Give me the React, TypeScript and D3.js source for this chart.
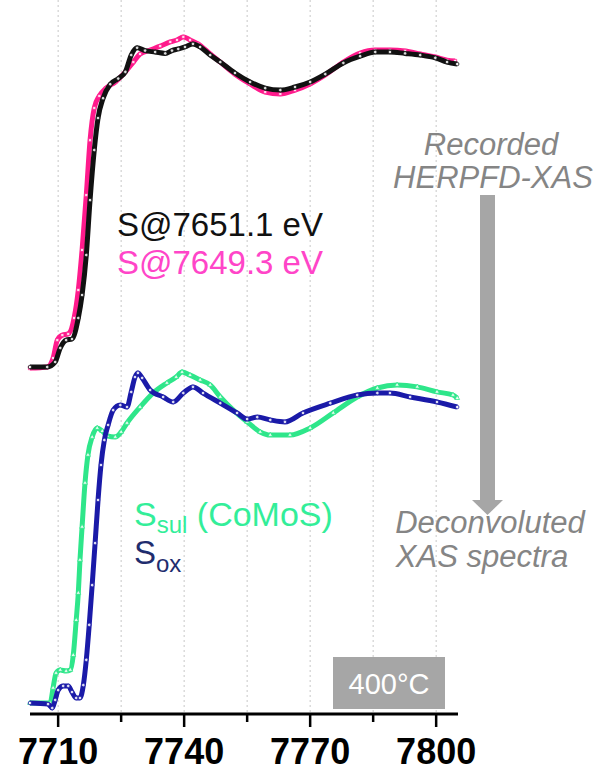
import React from "react";
import * as d3 from "d3";

// ---------- data (energy in eV, normalized absorbance) ----------
const blackE = [7703.3,7707.4,7709.3,7710.5,7711.9,7713.3,7714.8,7715.7,7716.7,7717.6,7718.6,7719.5,7720.7,7722.4,7724.3,7726,7727.4,7728.8,7730.7,7733.1,7735.5,7737.1,7738.6,7740.2,7742.1,7743.8,7746.2,7748.6,7752.1,7755.7,7759.3,7762.9,7766.4,7770,7773.6,7777.9,7781.9,7785.5,7789,7792.6,7796.2,7799.8,7802.6,7805];
const blackV = [0,0,0.018,0.068,0.096,0.1,0.175,0.257,0.4,0.596,0.775,0.889,0.96,1.01,1.03,1.054,1.114,1.14,1.13,1.125,1.12,1.13,1.136,1.143,1.154,1.143,1.114,1.089,1.05,1.018,0.996,0.989,1.0,1.018,1.046,1.086,1.11,1.125,1.125,1.12,1.114,1.104,1.089,1.082];

const pinkE = [7703.3,7707.4,7708.8,7709.8,7711,7712.4,7713.8,7714.8,7715.7,7716.7,7717.6,7718.6,7719.8,7721.4,7723.6,7726,7727.9,7729.5,7731.9,7734.3,7736.7,7738.3,7739.8,7741.4,7743.3,7746.2,7748.6,7752.1,7755.7,7759.3,7762.9,7766.4,7770,7773.6,7777.9,7781.9,7785.5,7789,7792.6,7796.2,7799.8,7802.6,7804.5];
const pinkV = [-0.004,0,0.032,0.096,0.114,0.118,0.175,0.275,0.418,0.614,0.81,0.925,0.968,0.996,1.018,1.054,1.089,1.118,1.132,1.146,1.161,1.168,1.179,1.168,1.154,1.118,1.089,1.046,1.011,0.982,0.975,0.989,1.011,1.043,1.089,1.121,1.132,1.132,1.129,1.118,1.107,1.096,1.093];

const sulE = [7703.3,7708.1,7708.8,7709.5,7710.5,7711.9,7712.9,7713.6,7714.3,7714.8,7715.2,7715.7,7716.4,7717.1,7718.1,7719.3,7720.5,7721.7,7723.6,7725,7726.4,7729.5,7732.6,7735.9,7738.1,7739.5,7741.4,7743.8,7746.2,7748.6,7751.7,7755,7758.1,7760.5,7765.2,7770,7775.5,7781.2,7786,7790.7,7795.5,7800.2,7804,7805];
const sulV = [0,0,0.054,0.107,0.118,0.114,0.118,0.171,0.296,0.393,0.511,0.629,0.786,0.886,0.95,0.982,0.971,0.954,0.95,0.968,1.0,1.057,1.107,1.143,1.164,1.182,1.171,1.154,1.136,1.093,1.046,1.004,0.968,0.957,0.957,0.982,1.036,1.093,1.125,1.136,1.129,1.111,1.1,1.089];

const oxE = [7703.3,7707.6,7708.6,7709.3,7710,7711.2,7712.4,7713.3,7714.3,7715.2,7716,7716.7,7717.4,7718.1,7718.8,7719.5,7720.2,7721,7721.9,7723.1,7724.8,7726.4,7727.4,7728.3,7729,7730,7731.9,7735,7737.4,7739.8,7742.1,7744.5,7748.6,7752.6,7755,7757.4,7760.5,7764,7768.3,7774.8,7781.2,7786,7789,7793.8,7800.2,7805];
const oxV = [0,-0.004,-0.018,0.011,0.046,0.061,0.061,0.039,0.018,0.018,0.064,0.154,0.279,0.421,0.571,0.725,0.85,0.939,0.993,1.046,1.064,1.057,1.111,1.164,1.179,1.161,1.118,1.093,1.075,1.107,1.129,1.107,1.071,1.036,1.014,1.021,1.011,1.004,1.036,1.071,1.1,1.107,1.107,1.093,1.075,1.057];

const TOP_OFFSET = 1.2;
const majorTicks = [7710, 7740, 7770, 7800];
const minorTicks = [7725, 7755, 7785];
const gridTicks = [7710, 7725, 7740, 7755, 7770, 7785, 7800];

const COLORS = {
  black: "#111111",
  pink: "#ff1a8c",
  pinkText: "#ff45c8",
  sul: "#2ee68a",
  sulText: "#33ee99",
  ox: "#1a1aa8",
  oxText: "#1f2d6e",
  gray: "#858585",
  box: "#a6a6a6",
};

const W = 595, H = 772;
const x = d3.scaleLinear().domain([7703.3, 7805.2]).range([30, 458]);
const y = d3.scaleLinear().domain([0, 1]).range([703, 423]);
const AXIS_Y = 714;

type Series = { E: number[]; V: number[]; offset: number; color: string; symbol: d3.SymbolType };

const series: Series[] = [
  { E: pinkE, V: pinkV, offset: TOP_OFFSET, color: COLORS.pink, symbol: d3.symbolSquare },
  { E: blackE, V: blackV, offset: TOP_OFFSET, color: COLORS.black, symbol: d3.symbolCircle },
  { E: sulE, V: sulV, offset: 0, color: COLORS.sul, symbol: d3.symbolTriangle },
  { E: oxE, V: oxV, offset: 0, color: COLORS.ox, symbol: d3.symbolCircle },
];

function SeriesPath({ s }: { s: Series }) {
  const pts: [number, number][] = s.E.map((e, i) => [x(e), y(s.V[i] + s.offset)]);
  const line = d3.line().curve(d3.curveMonotoneX)(pts) || "";
  const sym = d3.symbol().type(s.symbol).size(10)() || "";
  return (
    <g>
      <path d={line} fill="none" stroke={s.color} strokeWidth={5} strokeLinejoin="round" />
      {pts.map((p, i) => (
        <path key={i} d={sym} transform={`translate(${p[0]},${p[1]})`} fill="#ffffff" fillOpacity={0.85} stroke={s.color} strokeWidth={0.8} />
      ))}
    </g>
  );
}

export default function App() {
  const font = "Liberation Sans, Arial, Helvetica, sans-serif";
  return (
    <svg width={W} height={H} style={{ position: "absolute", left: 0, top: 0, background: "#fff" }} fontFamily={font}>
      {/* grid */}
      {gridTicks.map((t) => (
        <line key={t} x1={x(t)} x2={x(t)} y1={0} y2={AXIS_Y} stroke="#c8c8c8" strokeWidth={1} strokeDasharray="2,3" />
      ))}
      {/* series */}
      {series.map((s, i) => <SeriesPath key={i} s={s} />)}

      {/* axis */}
      <line x1={x(7703.3)} x2={x(7805.2)} y1={AXIS_Y} y2={AXIS_Y} stroke="#000" strokeWidth={3} />
      {majorTicks.map((t) => (
        <g key={t}>
          <line x1={x(t)} x2={x(t)} y1={AXIS_Y} y2={AXIS_Y + 13} stroke="#000" strokeWidth={2.5} />
          <text x={x(t)} y={764} textAnchor="middle" fontSize={36} fontWeight="bold" fill="#000">{t}</text>
        </g>
      ))}
      {minorTicks.map((t) => (
        <line key={t} x1={x(t)} x2={x(t)} y1={AXIS_Y} y2={AXIS_Y + 8} stroke="#000" strokeWidth={2.5} />
      ))}

      {/* legends */}
      <text x={117} y={236} fontSize={33} fill={COLORS.black}>S@7651.1 eV</text>
      <text x={117} y={274} fontSize={33} fill={COLORS.pinkText}>S@7649.3 eV</text>
      <text x={134} y={526} fontSize={34} fill={COLORS.sulText}>
        S<tspan dy={7} fontSize={24}>sul</tspan><tspan dy={-7}> (CoMoS)</tspan>
      </text>
      <text x={134} y={564} fontSize={33} fill={COLORS.oxText}>
        S<tspan dy={8} fontSize={24}>ox</tspan>
      </text>

      {/* annotation */}
      <g fill={COLORS.gray} fontStyle="italic" fontSize={31} textAnchor="middle">
        <text x={491} y={155}>Recorded</text>
        <text x={493} y={188}>HERPFD-XAS</text>
        <text x={490} y={533}>Deconvoluted</text>
        <text x={482} y={567}>XAS spectra</text>
      </g>
      <rect x={480} y={195} width={15} height={306} fill={COLORS.box} />
      <path d="M472,500 L503,500 L487.5,515 Z" fill={COLORS.box} />

      {/* temperature box */}
      <rect x={333} y={657} width={112} height={52} fill={COLORS.box} />
      <text x={389} y={694} textAnchor="middle" fontSize={29} fill="#fff">400°C</text>
    </svg>
  );
}
